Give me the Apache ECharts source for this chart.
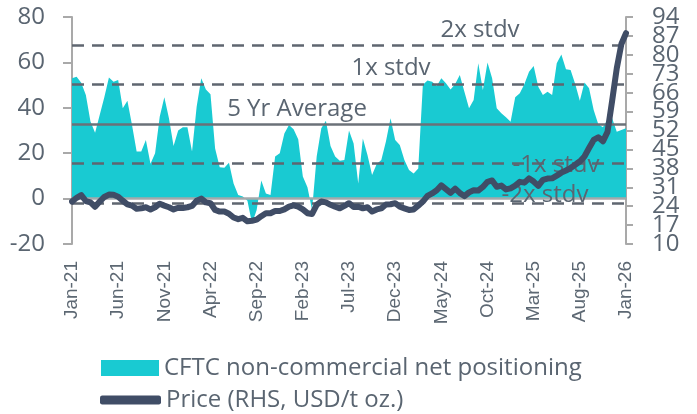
<!DOCTYPE html>
<html><head><meta charset="utf-8">
<script src="https://cdn.jsdelivr.net/npm/echarts@6/dist/echarts.min.js"></script>
<style>html,body{margin:0;padding:0;background:#fff}#c{width:697px;height:414px}</style>
</head><body><div id="c"></div>
<script>
// semi-monthly observations, Jan-21 .. Jan-26
const monthNames = ['Jan','Feb','Mar','Apr','May','Jun','Jul','Aug','Sep','Oct','Nov','Dec'];
const categories = [];
for (let m = 0; m <= 60; m++) {
  const lab = monthNames[m % 12] + '-' + (21 + Math.floor(m / 12));
  categories.push('1 ' + lab);
  if (m < 60) categories.push('15 ' + lab);
}
const xTickLabels = ['Jan-21','Jun-21','Nov-21','Apr-22','Sep-22','Feb-23','Jul-23','Dec-23','May-24','Oct-24','Mar-25','Aug-25','Jan-26'];
const leftTicks = [-20, 0, 20, 40, 60, 80];
const rightTicks = [10, 17, 24, 31, 38, 45, 52, 59, 66, 73, 80, 87, 94];

const cftc = [
  53, 53.7, 51, 45.6, 34, 29, 36.8, 44.6, 53.4, 51.5,
  52.2, 39.8, 43.1, 32.4, 20.7, 20.7, 25.8, 15.3, 20, 36.1,
  44.6, 35.4, 23.2, 30, 31.4, 31.4, 20.7, 40.5, 53, 48.1,
  46, 22.1, 13.8, 13.6, 15.8, 6.7, 1.6, 0.9, -0.9, -11,
  -5, 8, 2.3, 1.6, 18.5, 20, 28.7, 32.4, 30.5, 26.1,
  9.7, 5, -5, 18.5, 31, 34.3, 23.2, 18.5, 16.7, 17,
  30, 24.3, 6.7, 26.5, 19.2, 10.4, 15.2, 17, 25.1, 35.4,
  25.8, 23.6, 17, 12.6, 11.1, 13.3, 50.1, 52, 51.5, 49.6,
  53, 50.8, 48.1, 50.5, 54.4, 47.1, 39.8, 43.4, 59.6, 47.8,
  60, 53, 39.8, 37.6, 35.8, 33.9, 44.6, 46.4, 50.5, 55.9,
  58.4, 49.3, 45.6, 47.1, 45.6, 59.6, 63.5, 57, 56.7, 50.5,
  43.1, 51.1, 48.6, 39, 32.7, 31.4, 34.9, 35.4, 29.5, 30.2,
  31
];
const price = [
  25.7, 27.1, 28.1, 25.9, 25.4, 23.8, 25.7, 27.4, 28.3, 28.2,
  27.5, 26, 24.7, 24.2, 23, 23.2, 23.6, 22.8, 23.6, 24.9,
  24.2, 23.6, 22.8, 23.4, 23.3, 23.6, 24.1, 26, 26.8, 25.4,
  25.1, 22.6, 22, 22, 21.2, 19.8, 19.2, 19.7, 18.4, 18.6,
  19, 20.3, 21.4, 21.4, 22.2, 22.2, 22.8, 23.8, 24.3, 23.8,
  22.8, 21.4, 21.1, 24.5, 25.7, 25.4, 24.5, 23.8, 23.2, 24.1,
  25.1, 23.7, 23.8, 23.2, 23.6, 22, 22.8, 23.2, 24.6, 24.7,
  25.1, 23.8, 23.2, 22.6, 22.8, 24.2, 25.7, 27.8, 28.7, 29.9,
  31.7, 30.3, 28.9, 30.5, 28.9, 27.7, 29.1, 29.9, 29.8, 31.1,
  33, 33.5, 31.2, 31.6, 30.2, 30.6, 31.6, 33, 32.7, 34.3,
  33.1, 31.5, 33.7, 34.2, 34.3, 35.3, 36.4, 37.2, 38.1, 39.3,
  40.5, 42.4, 45.5, 48.5, 49.5, 48, 51.5, 63, 75, 84,
  88
];
const bandValues = [67.7, 50.3, 32.9, 15.5, -1.9];
const bandNames = ['2x stdv', '1x stdv', '5 Yr Average', '-1x stdv', '-2x stdv'];
const seriesNames = ['CFTC non-commercial net positioning', 'Price (RHS, USD/t oz.)'];

const TXT = '#5a6571';
const AX = '#a9a9a9';
const FONT = 'Open Sans';

const chart = echarts.init(document.getElementById('c'), null, {renderer: 'canvas'});

const markData = bandValues.map((v, i) => ({
  yAxis: v,
  lineStyle: {color: i === 2 ? '#6b7178' : '#5f6670', width: 2.5, type: i === 2 ? 'solid' : [12, 8]}
}));
markData.push({yAxis: 0, lineStyle: {color: '#a3a9ab', width: 2.5, type: 'solid'}});

const annPos = [[480, 30], [391, 68], [297, 109], [556, 165], [545, 195]];

// right-axis labels are split over two overlapping axes so that the tightly packed labels all show
const rightEven = rightTicks.filter((v, i) => i % 2 === 0);
const rightOdd = rightTicks.filter((v, i) => i % 2 === 1);
const rightLabel = (vals) => ({margin: 26, fontSize: 24, fontFamily: FONT, color: TXT, customValues: vals,
  showMinLabel: true, showMaxLabel: true, hideOverlap: false});

chart.setOption({
  animation: false,
  grid: {left: 72, right: 71, top: 17, bottom: 170},
  xAxis: {
    type: 'category', data: categories, boundaryGap: false,
    axisLine: {show: false}, axisTick: {show: false}, splitLine: {show: false},
    axisLabel: {
      rotate: 90, margin: 17, fontSize: 19, fontFamily: 'Liberation Sans', color: '#5d6873',
      interval: (idx) => idx % 10 === 0,
      formatter: (v, idx) => xTickLabels[Math.round(idx / 10)]
    }
  },
  yAxis: [
    {
      type: 'value', min: -20, max: 80, interval: 20, position: 'left',
      axisLine: {show: true, onZero: false, lineStyle: {color: AX, width: 2}},
      axisTick: {show: true, length: 9, lineStyle: {color: AX, width: 2}},
      splitLine: {show: false},
      axisLabel: {margin: 27, fontSize: 24, fontFamily: FONT, color: TXT}
    },
    {
      type: 'value', min: 10, max: 94, position: 'right', offset: 0,
      axisLine: {show: true, onZero: false, lineStyle: {color: AX, width: 2}},
      axisTick: {show: true, length: 7, lineStyle: {color: AX, width: 2}, customValues: rightTicks},
      splitLine: {show: false},
      axisLabel: rightLabel(rightEven)
    },
    {
      type: 'value', min: 10, max: 94, position: 'right', offset: 0,
      axisLine: {show: false}, axisTick: {show: false},
      splitLine: {show: false},
      axisLabel: rightLabel(rightOdd)
    }
  ],
  legend: [
    {
      data: [{name: seriesNames[0], icon: 'rect'}], left: 101, top: 356, itemWidth: 58, itemHeight: 16,
      itemGap: 0, padding: 0, textStyle: {fontSize: 24, fontFamily: FONT, color: TXT}
    },
    {
      data: [{name: seriesNames[1], icon: 'roundRect'}], left: 100, top: 388, itemWidth: 61, itemHeight: 9,
      itemGap: 0, padding: 0, textStyle: {fontSize: 24, fontFamily: FONT, color: TXT}
    }
  ],
  graphic: bandNames.map((t, i) => ({
    type: 'text', x: annPos[i][0], y: annPos[i][1], z: 4,
    style: {text: t, fontSize: 24, fontFamily: FONT, fill: TXT, align: 'center', verticalAlign: 'middle'}
  })),
  series: [
    {
      name: seriesNames[0], type: 'line', data: cftc, yAxisIndex: 0, z: 1,
      symbol: 'none', lineStyle: {width: 0}, itemStyle: {color: '#19cad2'},
      areaStyle: {color: '#19cad2', opacity: 1},
      markLine: {silent: true, symbol: 'none', z: 3, label: {show: false}, data: markData}
    },
    {
      name: seriesNames[1], type: 'line', data: price, yAxisIndex: 1, z: 10,
      symbol: 'none', lineStyle: {width: 6, color: '#404d66', join: 'round', cap: 'round'},
      itemStyle: {color: '#404d66'}
    }
  ]
});
</script>
</body></html>
